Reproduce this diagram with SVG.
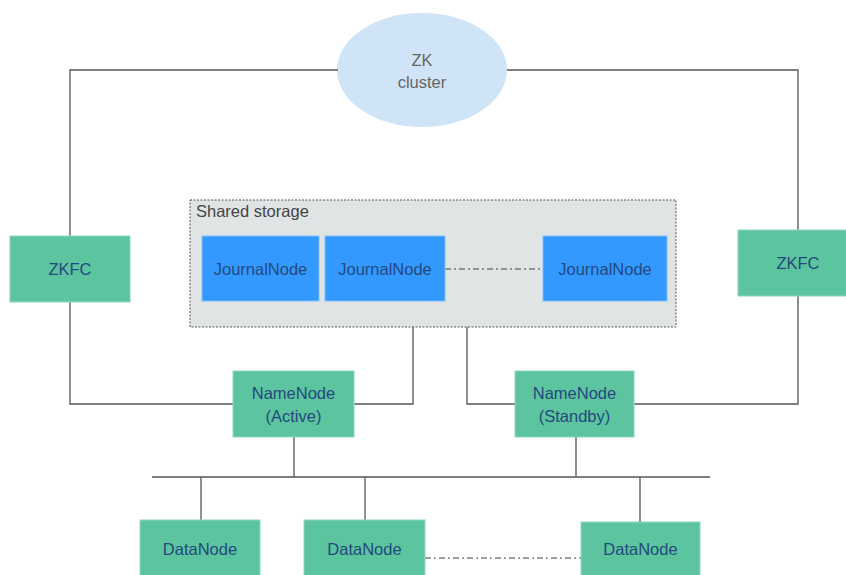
<svg xmlns="http://www.w3.org/2000/svg" width="846" height="575" viewBox="0 0 846 575">
<style>
text{font-family:"Liberation Sans",Arial,sans-serif;font-size:16.5px;text-anchor:middle;dominant-baseline:central}
.g{fill:#5cc49f;stroke:#8ed9bd;stroke-width:1}
.j{fill:#3399ff;stroke:#7fbfff;stroke-width:1}
.t{fill:#24497d}
.c{fill:none;stroke:#555;stroke-width:1.3}
.d{fill:none;stroke:#444;stroke-width:1.2;stroke-dasharray:6 3 2 3}
</style>
<rect width="846" height="575" fill="#fff"/>
<g id="zk">
<ellipse cx="422" cy="70" rx="85" ry="57" fill="#cfe4f7"/>
<text x="422" y="60" fill="#666">ZK</text>
<text x="422" y="82" fill="#666">cluster</text>
</g>
<g id="shared-storage">
<rect x="190" y="200" width="486" height="127" fill="#e1e4e5" stroke="#555" stroke-width="1" stroke-dasharray="2 1.5"/>
<text x="196" y="211" fill="#444" style="text-anchor:start">Shared storage</text>
</g>
<g id="connectors">
<polyline class="c" points="338,70 70,70 70,236"/>
<polyline class="c" points="70,302 70,404 233,404"/>
<polyline class="c" points="507,70 798,70 798,230"/>
<polyline class="c" points="798,296 798,404 634,404"/>
<polyline class="c" points="413,327 413,404 354,404"/>
<polyline class="c" points="467,327 467,404 515,404"/>
<line class="c" x1="294" y1="437" x2="294" y2="477"/>
<line class="c" x1="576" y1="437" x2="576" y2="477"/>
<line class="c" x1="152" y1="477" x2="710" y2="477"/>
<line class="c" x1="201" y1="477" x2="201" y2="520"/>
<line class="c" x1="365" y1="477" x2="365" y2="520"/>
<line class="c" x1="640" y1="477" x2="640" y2="522"/>
<line class="d" x1="445" y1="269" x2="543" y2="269"/>
<line class="d" x1="425" y1="558" x2="581" y2="558"/>
</g>
<g id="journal1"><rect class="j" x="202" y="236" width="117" height="65"/><text class="t" x="260.5" y="269">JournalNode</text></g>
<g id="journal2"><rect class="j" x="325" y="236" width="120" height="65"/><text class="t" x="385" y="269">JournalNode</text></g>
<g id="journal3"><rect class="j" x="543" y="236" width="124" height="65"/><text class="t" x="605" y="269">JournalNode</text></g>
<g id="zkfc-left"><rect class="g" x="10" y="236" width="120" height="66"/><text class="t" x="70" y="269">ZKFC</text></g>
<g id="zkfc-right"><rect class="g" x="738" y="230" width="110" height="66"/><text class="t" x="798" y="263">ZKFC</text></g>
<g id="namenode-active"><rect class="g" x="233" y="371" width="121" height="66"/><text class="t" x="293.5" y="393">NameNode</text><text class="t" x="293.5" y="416">(Active)</text></g>
<g id="namenode-standby"><rect class="g" x="515" y="371" width="119" height="66"/><text class="t" x="574.5" y="393">NameNode</text><text class="t" x="574.5" y="416">(Standby)</text></g>
<g id="datanode1"><rect class="g" x="140" y="520" width="120" height="66"/><text class="t" x="200" y="549">DataNode</text></g>
<g id="datanode2"><rect class="g" x="304" y="520" width="121" height="66"/><text class="t" x="364.5" y="549">DataNode</text></g>
<g id="datanode3"><rect class="g" x="581" y="522" width="119" height="66"/><text class="t" x="640.5" y="549">DataNode</text></g>
</svg>
